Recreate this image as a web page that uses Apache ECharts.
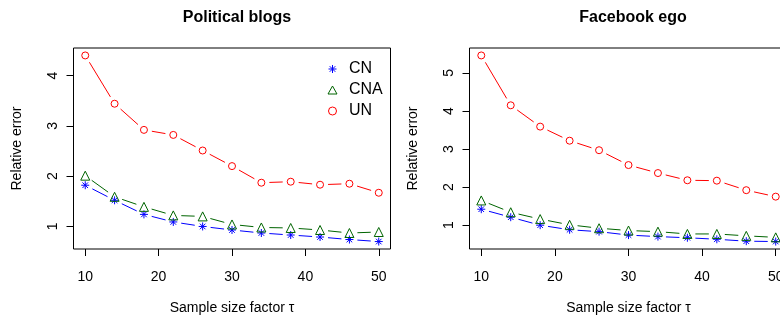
<!DOCTYPE html>
<html>
<head>
<meta charset="utf-8">
<script src="https://cdn.jsdelivr.net/npm/echarts@6/dist/echarts.min.js"></script>
<style>
  html, body { margin: 0; padding: 0; background: #fff; }
  #container { width: 780px; height: 316px; }
</style>
</head>
<body>
<div id="container"></div>
<script>
// sample size factor tau
const tau = [10, 14, 18, 22, 26, 30, 34, 38, 42, 46, 50];
const xTicks = [10, 20, 30, 40, 50];

// Political blogs
const blogsCN  = [1.82, 1.52, 1.24, 1.09, 1.00, 0.93, 0.87, 0.83, 0.79, 0.74, 0.70];
const blogsCNA = [2.01, 1.59, 1.39, 1.22, 1.20, 1.04, 0.98, 0.97, 0.93, 0.87, 0.89];
const blogsUN  = [4.40, 3.44, 2.92, 2.82, 2.51, 2.20, 1.87, 1.89, 1.83, 1.85, 1.67];
const blogsYTicks = [1, 2, 3, 4];

// Facebook ego
const fbCN  = [1.42, 1.21, 1.00, 0.88, 0.83, 0.74, 0.70, 0.67, 0.63, 0.58, 0.57];
const fbCNA = [1.65, 1.34, 1.16, 1.01, 0.92, 0.86, 0.83, 0.77, 0.77, 0.72, 0.68];
const fbUN  = [5.46, 4.15, 3.59, 3.22, 2.97, 2.58, 2.37, 2.18, 2.17, 1.92, 1.75];
const fbYTicks = [1, 2, 3, 4, 5];

const FONT = 'Liberation Sans, Arial, Helvetica, sans-serif';
const ASTERISK = 'path://M5,0L5,10M0,5L10,5M1.5,1.5L8.5,8.5M1.5,8.5L8.5,1.5';
const GAP = 8;

const styles = {
  CN:  { color: '#0000ff', symbol: ASTERISK, size: 8, fill: '#0000ff' },
  CNA: { color: '#006400', symbol: 'triangle', size: 9, fill: 'rgba(255,255,255,0)' },
  UN:  { color: '#ff0000', symbol: 'circle', size: 7, fill: 'rgba(255,255,255,0)' },
};

// R-like axis range: data range padded by 4% each side
function padRange(vals) {
  const lo = Math.min(...vals), hi = Math.max(...vals);
  const d = (hi - lo) * 0.04;
  return [lo - d, hi + d];
}

// type="b": segments stop short of the points
function gapLine(color) {
  return function (params, api) {
    const a = api.coord([api.value(0), api.value(1)]);
    const b = api.coord([api.value(2), api.value(3)]);
    const dx = b[0] - a[0], dy = b[1] - a[1];
    const len = Math.sqrt(dx * dx + dy * dy);
    if (len <= 2 * GAP) return null;
    const ux = dx / len, uy = dy / len;
    return {
      type: 'line',
      shape: { x1: a[0] + ux * GAP, y1: a[1] + uy * GAP, x2: b[0] - ux * GAP, y2: b[1] - uy * GAP },
      style: { stroke: color, lineWidth: 1 }
    };
  };
}

function segments(ys) {
  const out = [];
  for (let i = 0; i < tau.length - 1; i++) out.push([tau[i], ys[i], tau[i + 1], ys[i + 1]]);
  return out;
}

function panelSeries(idx, sets) {
  const out = [];
  Object.keys(sets).forEach(function (name) {
    const st = styles[name];
    out.push({
      type: 'custom', xAxisIndex: idx, yAxisIndex: idx, silent: true,
      renderItem: gapLine(st.color),
      encode: { x: [0, 2], y: [1, 3] },
      data: segments(sets[name])
    });
  });
  Object.keys(sets).forEach(function (name) {
    const st = styles[name];
    out.push({
      name: name, type: 'scatter', xAxisIndex: idx, yAxisIndex: idx,
      symbol: st.symbol, symbolSize: st.size,
      itemStyle: { color: st.fill, borderColor: st.color, borderWidth: 1, opacity: 1 },
      data: tau.map(function (t, i) { return [t, sets[name][i]]; })
    });
  });
  return out;
}

function xAxis(idx) {
  return {
    type: 'value', gridIndex: idx, min: 8.4, max: 51.6,
    name: 'Sample size factor \u03c4', nameLocation: 'middle', nameGap: 52,
    nameTextStyle: { fontFamily: FONT, fontSize: 14, color: '#000' },
    axisLine: { show: false },
    splitLine: { show: false },
    axisTick: { show: true, inside: false, length: 7, customValues: xTicks, lineStyle: { color: '#000' } },
    axisLabel: { customValues: xTicks, margin: 21, fontFamily: FONT, fontSize: 14, color: '#000' }
  };
}

function yAxis(idx, vals, ticks) {
  const r = padRange(vals);
  return {
    type: 'value', gridIndex: idx, min: r[0], max: r[1],
    name: 'Relative error', nameLocation: 'middle', nameGap: 49,
    nameTextStyle: { fontFamily: FONT, fontSize: 14, color: '#000' },
    axisLine: { show: false },
    splitLine: { show: false },
    axisTick: { show: true, inside: false, length: 7, customValues: ticks, lineStyle: { color: '#000' } },
    axisLabel: { customValues: ticks, rotate: 90, margin: 13, fontFamily: FONT, fontSize: 14, color: '#000' }
  };
}

const chart = echarts.init(document.getElementById('container'));
const opt = {
  animation: false,
  backgroundColor: '#fff',
  title: [
    { text: 'Political blogs', left: 232, top: 5, textAlign: 'center',
      textStyle: { fontFamily: FONT, fontSize: 16, fontWeight: 'bold', color: '#000' } },
    { text: 'Facebook ego', left: 628, top: 5, textAlign: 'center',
      textStyle: { fontFamily: FONT, fontSize: 16, fontWeight: 'bold', color: '#000' } }
  ],
  legend: {
    orient: 'vertical', left: 327.5, top: 61, padding: 0,
    itemWidth: 9, itemHeight: 8, itemGap: 5,
    itemStyle: { borderWidth: 1 },
    textStyle: { fontFamily: FONT, fontSize: 16, color: '#000', lineHeight: 16, padding: [0, 0, 0, 7] },
    data: [
      { name: 'CN', icon: ASTERISK },
      { name: 'CNA', icon: 'triangle' },
      { name: 'UN', icon: 'circle' }
    ]
  },
  grid: [
    { left: 73.5, top: 48, width: 317, height: 201, show: true, borderColor: '#000', borderWidth: 1,
      outerBoundsMode: 'none' },
    { left: 469.5, top: 48, width: 318, height: 201, show: true, borderColor: '#000', borderWidth: 1,
      outerBoundsMode: 'none' }
  ],
  xAxis: [xAxis(0), xAxis(1)],
  yAxis: [
    yAxis(0, blogsCN.concat(blogsCNA, blogsUN), blogsYTicks),
    yAxis(1, fbCN.concat(fbCNA, fbUN), fbYTicks)
  ],
  series: panelSeries(0, { CN: blogsCN, CNA: blogsCNA, UN: blogsUN })
    .concat(panelSeries(1, { CN: fbCN, CNA: fbCNA, UN: fbUN }))
};
chart.setOption(opt);
</script>
</body>
</html>
